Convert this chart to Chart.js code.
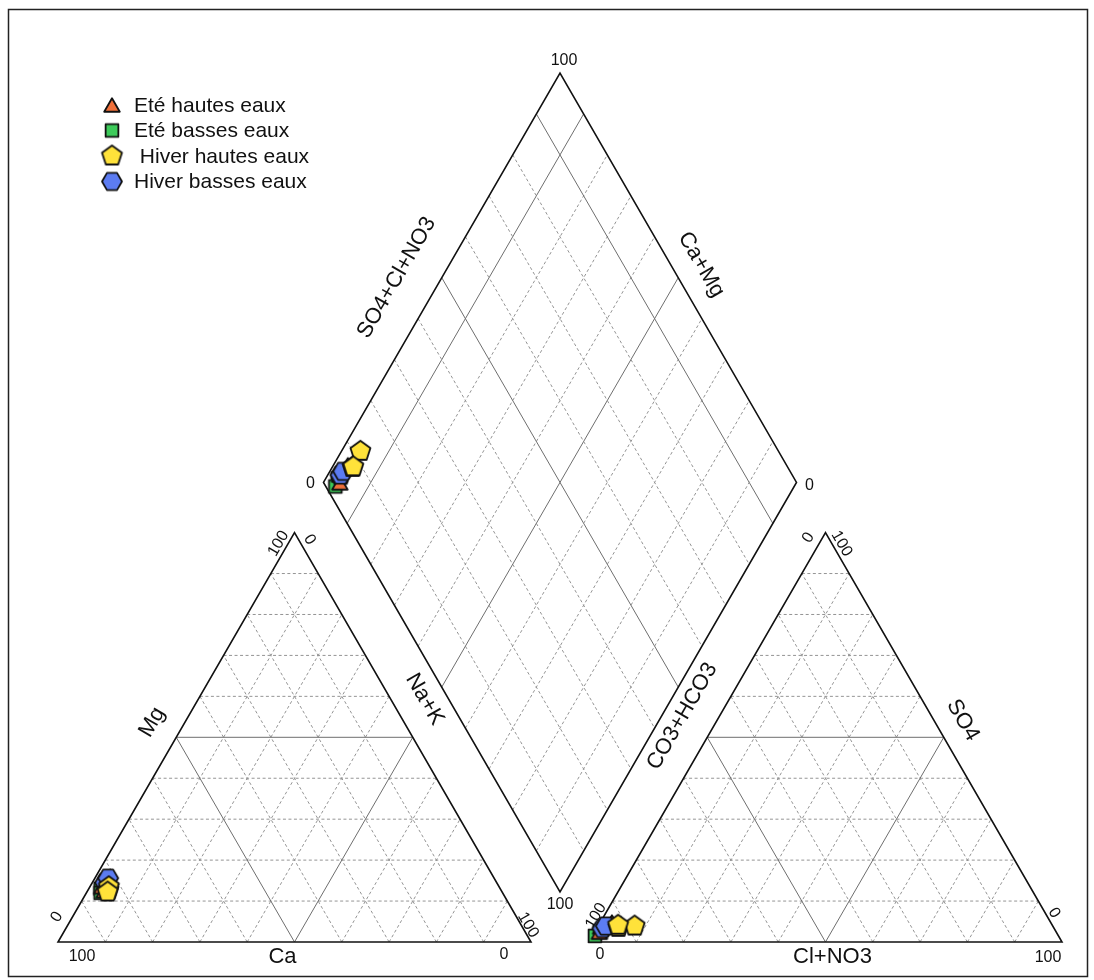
<!DOCTYPE html>
<html>
<head>
<meta charset="utf-8">
<script src="https://cdn.jsdelivr.net/npm/chart.js@4.4.1/dist/chart.umd.min.js"></script>
<style>
  body { margin: 0; background: #fff; }
</style>
</head>
<body>
<canvas id="piper" width="1094" height="980"></canvas>
<script>
const SIN60 = Math.sqrt(3) / 2;
const GAP = 12.26; // space between the two triangles (side = 100)

const seriesNames = ['Eté hautes eaux', 'Eté basses eaux', ' Hiver hautes eaux', 'Hiver basses eaux'];
const seriesFill = ['#f0703a', '#3dcb5a', '#ffe23a', '#5c7cf2'];

// cations (% meq): Mg and Na+K, Ca is the rest
const eteHautesMg = [14.5, 13.5, 12.5];
const eteHautesNaK = [3.0, 2.5, 3.5];
const eteBassesMg = [13.0, 12.0, 14.0];
const eteBassesNaK = [2.5, 3.0, 3.0];
const hiverHautesMg = [12.7, 13.5, 12.2];
const hiverHautesNaK = [4.3, 4.0, 4.4];
const hiverBassesMg = [14.5, 15.6];
const hiverBassesNaK = [2.7, 2.8];

// anions (% meq): SO4 and Cl+NO3, CO3+HCO3 is the rest
const eteHautesSO4 = [4.9, 3.7, 2.4];
const eteHautesCl = [2.4, 0.6, 1.0];
const eteBassesSO4 = [2.5, 1.5, 3.0];
const eteBassesCl = [1.0, 0.5, 1.2];
const hiverHautesSO4 = [3.6, 3.9, 4.1];
const hiverHautesCl = [4.4, 7.7, 4.1];
const hiverBassesSO4 = [3.3, 3.9];
const hiverBassesCl = [1.2, 1.6];

// ternary -> plot units
const cationXY = (mg, nak) => ({ x: nak + mg / 2, y: mg * SIN60 });
const anionXY = (so4, cl) => ({ x: 100 + GAP + cl + so4 / 2, y: so4 * SIN60 });
const diamondXY = (nak, an) => {
  const lx = 50 + GAP / 2, ly = GAP * SIN60 + 100 * SIN60;
  return { x: lx + an / 2 + nak / 2, y: ly + (an - nak) * SIN60 };
};

function piperPoints(mg, nak, so4, cl) {
  const pts = [];
  mg.forEach((m, i) => pts.push(cationXY(m, nak[i])));
  so4.forEach((s, i) => pts.push(anionXY(s, cl[i])));
  mg.forEach((m, i) => pts.push(diamondXY(nak[i], so4[i] + cl[i])));
  return pts;
}

function makeMarker(sides, fill, r, rot) {
  const size = Math.ceil(r * 2 + 4);
  const c = document.createElement('canvas');
  c.width = size; c.height = size;
  const g = c.getContext('2d');
  g.beginPath();
  for (let i = 0; i < sides; i++) {
    const a = rot + i * 2 * Math.PI / sides;
    const px = size / 2 + r * Math.cos(a), py = size / 2 + r * Math.sin(a) + (sides === 3 ? r / 4 : 0);
    i ? g.lineTo(px, py) : g.moveTo(px, py);
  }
  g.closePath();
  g.fillStyle = fill; g.fill();
  g.lineWidth = 1.8; g.strokeStyle = '#111'; g.lineJoin = 'round'; g.stroke();
  return c;
}

const markers = [
  makeMarker(3, seriesFill[0], 9, -Math.PI / 2),
  makeMarker(4, seriesFill[1], 9, Math.PI / 4),
  makeMarker(5, seriesFill[2], 10.5, -Math.PI / 2),
  makeMarker(6, seriesFill[3], 10, 0)
];

const datasets = [
  { data: piperPoints(eteHautesMg, eteHautesNaK, eteHautesSO4, eteHautesCl), order: 2 },
  { data: piperPoints(eteBassesMg, eteBassesNaK, eteBassesSO4, eteBassesCl), order: 3 },
  { data: piperPoints(hiverHautesMg, hiverHautesNaK, hiverHautesSO4, hiverHautesCl), order: 0 },
  { data: piperPoints(hiverBassesMg, hiverBassesNaK, hiverBassesSO4, hiverBassesCl), order: 1 }
].map((d, i) => ({ ...d, label: seriesNames[i], pointStyle: markers[i], clip: false }));

const FONT = '"Liberation Sans", Arial, sans-serif';

const piperGrid = {
  id: 'piperGrid',
  beforeDatasetsDraw(chart) {
    const { ctx, scales: { x, y } } = chart;
    const P = p => [x.getPixelForValue(p.x), y.getPixelForValue(p.y)];
    const seg = (a, b, solid) => {
      const [x1, y1] = P(a), [x2, y2] = P(b);
      ctx.save();
      ctx.strokeStyle = solid ? '#6e6e6e' : '#949494';
      ctx.lineWidth = 1;
      ctx.setLineDash(solid ? [] : [3, 2.5]);
      ctx.beginPath(); ctx.moveTo(x1, y1); ctx.lineTo(x2, y2); ctx.stroke();
      ctx.restore();
    };
    const poly = pts => {
      ctx.save();
      ctx.strokeStyle = '#111'; ctx.lineWidth = 1.6;
      ctx.beginPath();
      pts.map(P).forEach(([px, py], i) => i ? ctx.lineTo(px, py) : ctx.moveTo(px, py));
      ctx.closePath(); ctx.stroke();
      ctx.restore();
    };
    for (let k = 10; k < 100; k += 10) {
      const s = k === 50;
      seg(cationXY(k, 0), cationXY(k, 100 - k), s);
      seg(cationXY(0, k), cationXY(100 - k, k), s);
      seg(cationXY(0, 100 - k), cationXY(100 - k, 0), s);
      seg(anionXY(k, 0), anionXY(k, 100 - k), s);
      seg(anionXY(0, k), anionXY(100 - k, k), s);
      seg(anionXY(0, 100 - k), anionXY(100 - k, 0), s);
      seg(diamondXY(0, k), diamondXY(100, k), s || k === 90);
      seg(diamondXY(k, 0), diamondXY(k, 100), s || k === 10);
    }
    poly([cationXY(0, 0), cationXY(0, 100), cationXY(100, 0)]);
    poly([anionXY(0, 0), anionXY(0, 100), anionXY(100, 0)]);
    poly([diamondXY(0, 0), diamondXY(0, 100), diamondXY(100, 100), diamondXY(100, 0)]);

    // labels
    const txt = (s, p, dx, dy, deg, size) => {
      const [px, py] = P(p);
      ctx.save();
      ctx.translate(px + dx, py + dy);
      ctx.rotate(deg * Math.PI / 180);
      ctx.font = size + 'px ' + FONT;
      ctx.fillStyle = '#111';
      ctx.textAlign = 'center'; ctx.textBaseline = 'middle';
      ctx.fillText(s, 0, 0);
      ctx.restore();
    };
    const n = 16, t = 22;
    // cation triangle
    const caC = cationXY(0, 0), naC = cationXY(0, 100), mgC = cationXY(100, 0);
    txt('100', caC, 24, 15, 0, n);
    txt('0', caC, -1, -25, -60, n);
    txt('0', naC, -27, 13, 0, n);
    txt('100', naC, -3, -17, 60, n);
    txt('100', mgC, -16, 11, -60, n);
    txt('0', mgC, 15, 7, 60, n);
    txt('Ca', cationXY(0, 50), -12, 15, 0, t);
    txt('Mg', cationXY(50, 0), -24, -15, -60, t);
    txt('Na+K', cationXY(50, 50), 12, -38, 60, t);
    // anion triangle
    const hcC = anionXY(0, 0), clC = anionXY(0, 100), soC = anionXY(100, 0);
    txt('100', hcC, 7, -26, -60, n);
    txt('0', hcC, 11, 13, 0, n);
    txt('100', clC, -14, 16, 0, n);
    txt('0', clC, -8, -29, 60, n);
    txt('0', soC, -17, 5, -60, n);
    txt('100', soC, 16, 11, 60, n);
    txt('Cl+NO3', anionXY(0, 50), 7, 15, 0, t);
    txt('CO3+HCO3', anionXY(50, 0), -25, -21, -60, t);
    txt('SO4', anionXY(50, 50), 19, -17, 60, t);
    // diamond
    txt('100', diamondXY(0, 100), 4, -12, 0, n);
    txt('0', diamondXY(0, 0), -13, 1, 0, n);
    txt('0', diamondXY(100, 100), 13, 3, 0, n);
    txt('100', diamondXY(100, 0), 0, 13, 0, n);
    txt('SO4+Cl+NO3', diamondXY(0, 50), -45, 0, -60, t);
    txt('Ca+Mg', diamondXY(50, 100), 23, -13, 60, t);
  },
  afterDraw(chart) {
    const { ctx } = chart;
    ctx.save();
    ctx.strokeStyle = '#222'; ctx.lineWidth = 1.5;
    ctx.strokeRect(8.5, 9.5, 1079, 967);
    ctx.restore();
  }
};

const piperLegend = {
  id: 'piperLegend',
  afterDraw(chart) {
    const { ctx } = chart;
    ctx.save();
    ctx.font = '21px ' + FONT;
    ctx.fillStyle = '#111';
    ctx.textBaseline = 'middle';
    seriesNames.forEach((name, i) => {
      const yy = 105 + i * 25.5;
      const m = markers[i];
      ctx.drawImage(m, 112 - m.width / 2, yy - m.height / 2);
      ctx.fillText(name, 134, yy + 1);
    });
    ctx.restore();
  }
};

new Chart(document.getElementById('piper'), {
  type: 'scatter',
  data: { datasets },
  options: {
    responsive: false,
    animation: false,
    layout: { padding: { left: 58, right: 32, top: 73, bottom: 38 } },
    scales: {
      x: { type: 'linear', display: false, min: 0, max: 200 + GAP },
      y: { type: 'linear', display: false, min: 0, max: (200 + GAP) * SIN60 }
    },
    plugins: { legend: { display: false }, tooltip: { enabled: false } }
  },
  plugins: [piperGrid, piperLegend]
});
</script>
</body>
</html>
